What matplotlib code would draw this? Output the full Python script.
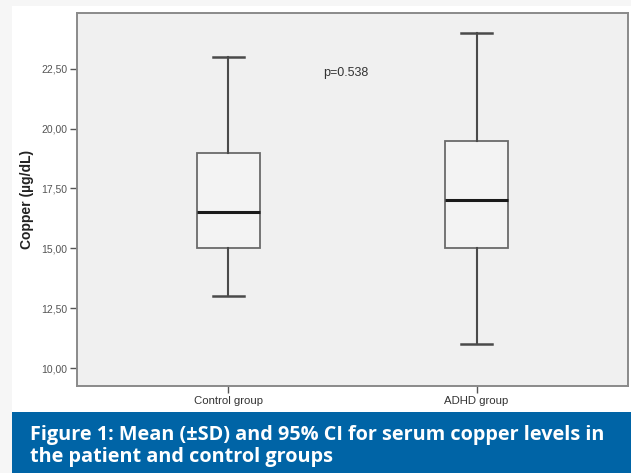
import matplotlib.pyplot as plt
from matplotlib.patches import Rectangle

# box plot summary values
groups = ['Control group', 'ADHD group']
whisker_low = [13.0, 11.0]
q1 = [15.0, 15.0]
median = [16.5, 17.0]
q3 = [19.0, 19.5]
whisker_high = [23.0, 24.0]
yticks = [10.0, 12.5, 15.0, 17.5, 20.0, 22.5]
ytick_labels = ['10,00', '12,50', '15,00', '17,50', '20,00', '22,50']
p_text = 'p=0.538'
caption = ('Figure 1: Mean (\u00b1SD) and 95% CI for serum copper levels in\n'
           'the patient and control groups')

W, H = 631, 473
fig = plt.figure(figsize=(W / 100, H / 100), dpi=100)
fig.patch.set_facecolor('#f6f6f6')

# white panel behind the chart
fig.patches.append(Rectangle((12 / W, 0), 1, 1 - 6 / H, transform=fig.transFigure,
                             facecolor='white', edgecolor='none', zorder=-2))
# blue caption bar
fig.patches.append(Rectangle((12 / W, 0), 1, 61 / H, transform=fig.transFigure,
                             facecolor='#0064a6', edgecolor='none', zorder=-1))
fig.text(30 / W, (H - 446) / H, caption, transform=fig.transFigure, color='white',
         fontsize=14.3, fontweight='bold', family='Open Sans', va='center',
         ha='left', linespacing=1.1)

ax = fig.add_axes([77 / W, 1 - 386 / H, (628 - 77) / W, (386 - 13) / H])
ax.set_facecolor('#f0f0f0')

stats = []
for i, g in enumerate(groups):
    stats.append({'label': g, 'whislo': whisker_low[i], 'q1': q1[i], 'med': median[i],
                  'q3': q3[i], 'whishi': whisker_high[i], 'fliers': []})

ax.bxp(stats, positions=[1, 2], widths=0.254, showfliers=False, patch_artist=True,
       boxprops=dict(facecolor='#f3f3f3', edgecolor='#6a6a6a', linewidth=1.3),
       medianprops=dict(color='#1a1a1a', linewidth=2.2),
       whiskerprops=dict(color='#4a4a4a', linewidth=1.5),
       capprops=dict(color='#4a4a4a', linewidth=1.8),
       capwidths=0.125)

ax.set_xlim(0.39, 2.61)
ax.set_ylim(9.25, 24.83)
ax.set_yticks(yticks)
ax.set_yticklabels(ytick_labels)
ax.tick_params(axis='y', direction='out', length=5, width=1, color='#555555',
               labelsize=7.5, labelcolor='#555555', pad=2)
ax.tick_params(axis='x', direction='out', length=5, width=1, color='#555555',
               labelsize=8.2, labelcolor='#333333', pad=2)
for t in ax.get_xticklabels() + ax.get_yticklabels():
    t.set_family('Liberation Sans')
for s in ax.spines.values():
    s.set_color('#8a8a8a')
    s.set_linewidth(1.4)

ax.set_ylabel('Copper (\u00b5g/dL)', fontsize=10, fontweight='bold', color='#222222',
              family='Liberation Sans', labelpad=5)
ax.text(1.38, 22.33, p_text, fontsize=9, color='#333333', family='Liberation Sans',
        va='center', ha='left')

fig.savefig('out.png', dpi=100, facecolor=fig.get_facecolor())
